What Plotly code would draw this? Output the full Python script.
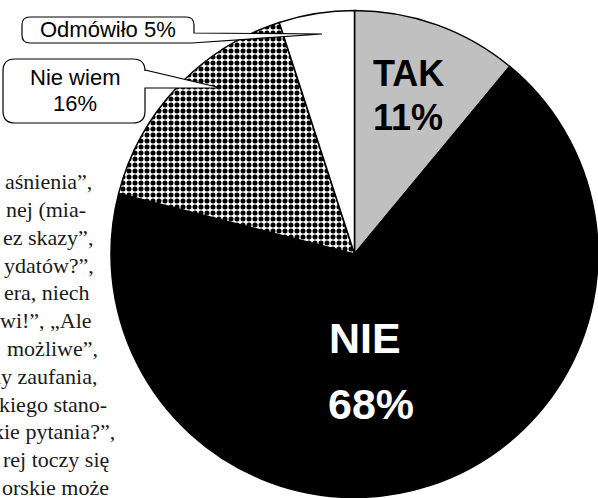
import plotly.graph_objects as go

W, H = 598, 498

# ---- data ----
labels = ["TAK", "NIE", "Nie wiem", "Odmówiło"]
values = [11, 68, 16, 5]
slice_colors = ["#c0c0c0", "#000000", "#ffffff", "#ffffff"]
slice_patterns = ["", "", ".", ""]

bg_lines = ["aśnienia”,", "nej (mia-", "ez skazy”,", "ydatów?”,", "era, niech",
            "wi!”, „Ale", "możliwe”,", "ny zaufania,", "kiego stano-",
            "kie pytania?”,", "rej toczy się", "orskie może"]
bg_right = [94, 88, 95, 96, 92, 94, 100, 100, 109, 117, 111, 111]


def px(x):
    return x / W


def py(y):
    return 1 - y / H


fig = go.Figure()
fig.add_trace(go.Pie(
    labels=labels, values=values, sort=False, direction="clockwise", rotation=0,
    textinfo="none", hoverinfo="none", showlegend=False,
    marker=dict(colors=slice_colors, line=dict(color="black", width=1.5),
                pattern=dict(shape=slice_patterns, fgcolor="black", bgcolor="white",
                             size=6, solidity=0.55)),
    domain=dict(x=[111 / W, 1.0], y=[0.5 / H, 487.5 / H]),
))


def P(x, y):
    return f"{px(x):.5f},{py(y):.5f}"


# callout: Odmówiło
x0, x1, y0, y1, r = 22, 194, 17, 43, 8
tip = (322, 34)
path1 = ("M" + P(x0 + r, y0) + " L" + P(x1 - r, y0) + " Q" + P(x1, y0) + " " + P(x1, y0 + r) +
         " L" + P(x1, 33) + " L" + P(*tip) + " L" + P(x1 - 2, y1) +
         " L" + P(x0 + r, y1) + " Q" + P(x0, y1) + " " + P(x0, y1 - r) +
         " L" + P(x0, y0 + r) + " Q" + P(x0, y0) + " " + P(x0 + r, y0) + " Z")
# callout: Nie wiem
a0, a1, b0, b1, rr = 3, 145, 59, 123, 12
tip2 = (221, 88)
path2 = ("M" + P(a0 + rr, b0) + " L" + P(a1 - rr, b0) + " Q" + P(a1, b0) + " " + P(a1, b0 + rr) +
         " L" + P(a1, 70) + " L" + P(*tip2) + " L" + P(a1, 88) +
         " L" + P(a1, b1 - rr) + " Q" + P(a1, b1) + " " + P(a1 - rr, b1) +
         " L" + P(a0 + rr, b1) + " Q" + P(a0, b1) + " " + P(a0, b1 - rr) +
         " L" + P(a0, b0 + rr) + " Q" + P(a0, b0) + " " + P(a0 + rr, b0) + " Z")

shapes = [dict(type="path", xref="paper", yref="paper", path=p,
               fillcolor="white", line=dict(color="black", width=1.2), layer="above")
          for p in (path1, path2)]

sans = "Liberation Sans, Arial, sans-serif"
serif = "Liberation Serif, Times New Roman, serif"
ann = []
for i, (t, xr) in enumerate(zip(bg_lines, bg_right)):
    yc = 181.7 + 27.8 * i
    ann.append(dict(text=t, x=px(xr), y=py(yc), xanchor="right",
                    font=dict(family=serif, size=22, color="#1a1a1a")))

ann += [
    dict(text="Odmówiło 5%", x=px(108), y=py(30), xanchor="center",
         font=dict(family=sans, size=22, color="black")),
    dict(text="Nie wiem", x=px(75), y=py(77), xanchor="center",
         font=dict(family=sans, size=22, color="black")),
    dict(text="16%", x=px(75), y=py(103), xanchor="center",
         font=dict(family=sans, size=22, color="black")),
    dict(text="<b>TAK</b>", x=px(371), y=py(74), xanchor="left",
         font=dict(family=sans, size=36, color="black")),
    dict(text="<b>11%</b>", x=px(371), y=py(117), xanchor="left",
         font=dict(family=sans, size=36, color="black")),
    dict(text="<b>NIE</b>", x=px(327), y=py(338), xanchor="left",
         font=dict(family=sans, size=43, color="white")),
    dict(text="<b>68%</b>", x=px(326), y=py(404), xanchor="left",
         font=dict(family=sans, size=43, color="white")),
]
for a in ann:
    a.update(xref="paper", yref="paper", showarrow=False, yanchor="middle")

fig.update_layout(width=W, height=H, margin=dict(l=0, r=0, t=0, b=0),
                  paper_bgcolor="white", plot_bgcolor="white",
                  shapes=shapes, annotations=ann)
fig.write_html("out.html")
